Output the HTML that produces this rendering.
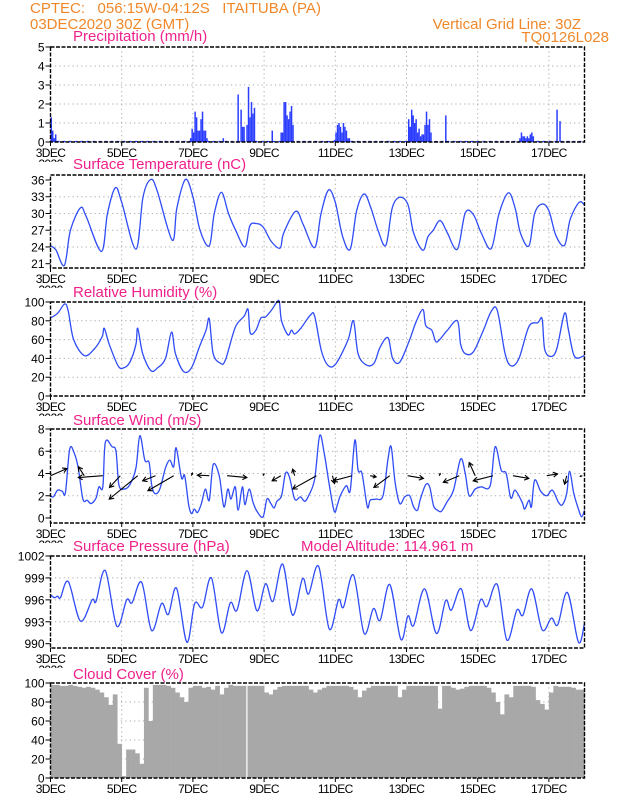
<!DOCTYPE html>
<html><head><meta charset="utf-8"><style>
html,body{margin:0;padding:0;background:#fff;}
svg{display:block;font-family:"Liberation Sans",sans-serif;}
.hdr{fill:#f0882a;font-size:15px;}
.ttl{fill:#f0208a;font-size:15px;}
.tk{font-size:12px;fill:#000;}
</style></head><body>
<svg id="chart" width="618" height="800" viewBox="0 0 618 800">
<text class="hdr" x="30" y="13" xml:space="preserve">CPTEC:   056:15W-04:12S   ITAITUBA (PA)</text>
<text class="hdr" x="30" y="29">03DEC2020 30Z (GMT)</text>
<text class="hdr" x="581" y="29" text-anchor="end">Vertical Grid Line: 30Z</text>
<text class="hdr" x="609" y="42" text-anchor="end">TQ0126L028</text>
</svg>
<script>
// ---- data ----
const dayLabels=["3DEC","5DEC","7DEC","9DEC","11DEC","13DEC","15DEC","17DEC"];
const precipStartHour=[0,94,116,126,149,155,191,241,266,316,341,343];
const precipClusters=[[1.3,0.6,0.2,0.4],[0.2,0.7,0.5,1.6,1.3,0.6,0.6,1.2,1.6,0.6,0.6,0.2],[0.2],[2.5,0,1.7,0.8,0.8,0,0.9,2.9,1.3,2.1,1.5,1.8],[0.6],[0.5,0.5,2.1,2.1,1.4,1.2,1.6,1.9,0.9],[0.1,0.5,0.9,1.0,0.8,0.5,1.0,0.8,0.6,0.2,0.2],[1.2,0.8,1.7,1.4,1.0,1.2,0.5,0.7,0.3,0.4,0.4,0.9,1.6,0.9,1.2,0.5],[1.4],[0.2,0.5,0.3,0.3,0.2,0.3,0.2,0.4,0.5,0.3],[1.7],[1.1]];
const tempT=[0,0.15,0.39,0.56,0.84,1.0,1.43,1.6,1.82,2.0,2.4,2.6,2.82,3.0,3.42,3.55,3.79,4.0,4.2,4.46,4.6,4.8,5.0,5.2,5.46,5.6,5.77,5.97,6.2,6.45,6.55,6.89,7.1,7.42,7.6,7.81,8.0,8.2,8.42,8.6,8.81,9.0,9.2,9.42,9.6,9.81,10.04,10.2,10.46,10.6,10.75,10.9,11.0,11.15,11.43,11.65,11.88,12.1,12.38,12.6,12.86,13.05,13.2,13.44,13.6,13.81,14.0,14.2,14.44,14.6,14.85,15];
const tempV=[24.2,23.5,20.7,27,31,29.5,23.2,30,34.6,32,23.6,33,36.1,34,25.2,31,36.1,33,27,24.2,30,33.8,30,27,24,27.8,28.2,27.6,25,23.8,26.5,30.4,28,23.9,30,34.2,32,26,23.6,30.5,33.5,31,27,24.3,31,32.9,31.6,26.5,23.4,25.8,27,28.6,28.4,26.5,23.6,30.1,29.8,26.5,23.7,30,33.7,31,26.5,24.2,30,31.7,30.5,26,24.3,29,32,31.5];
const rhT=[0,0.2,0.4,0.5,0.65,0.95,1.23,1.45,1.51,1.65,1.9,2.06,2.23,2.4,2.45,2.59,2.82,3.01,3.23,3.4,3.51,3.74,3.96,4.18,4.37,4.46,4.57,4.77,4.91,5.19,5.44,5.55,5.61,5.77,5.91,6.04,6.22,6.36,6.43,6.49,6.67,6.77,6.86,7.03,7.3,7.42,7.61,7.81,8.03,8.36,8.51,8.64,8.87,9.09,9.26,9.48,9.61,9.81,10.09,10.26,10.46,10.54,10.71,10.82,10.93,11.15,11.43,11.52,11.65,11.88,12.16,12.38,12.55,12.77,12.94,13.16,13.44,13.69,13.81,13.88,14.05,14.22,14.44,14.55,14.72,15];
const rhV=[83,88,98,90,60,43,50,63,72,55,32,30,36,55,72,45,27,30,40,68,45,26,30,52,70,82,45,35,38,73,85,92,67,70,83,84,92,100,100,80,65,70,66,72,86,85,48,32,35,60,80,45,33,35,52,62,40,36,60,78,92,75,70,58,60,70,80,55,45,47,70,90,91,45,32,40,74,78,82,50,42,50,88,70,42,43];
const windT=[0,.08,.2,.33,.42,.54,.67,.78,.91,1.03,1.14,1.28,1.36,1.47,1.54,1.73,1.84,1.92,2.06,2.23,2.4,2.51,2.65,2.77,2.84,2.93,3.07,3.23,3.35,3.46,3.53,3.68,3.77,3.88,3.96,4.04,4.13,4.24,4.35,4.46,4.57,4.74,4.87,4.98,5.07,5.19,5.27,5.39,5.46,5.58,5.69,5.8,5.97,6.08,6.19,6.28,6.36,6.49,6.6,6.71,6.86,7.02,7.14,7.25,7.42,7.56,7.69,7.83,7.97,8.06,8.14,8.31,8.42,8.55,8.64,8.75,8.9,8.98,9.14,9.34,9.48,9.57,9.68,9.81,9.95,10.09,10.2,10.31,10.39,10.54,10.65,10.76,10.87,10.98,11.13,11.32,11.52,11.65,11.76,11.93,12.1,12.35,12.49,12.66,12.8,12.93,13.05,13.25,13.32,13.44,13.51,13.6,13.77,13.94,14.1,14.27,14.38,14.5,14.58,14.7,14.83,14.92,15];
const windV=[2.0,1.9,2.5,2.4,2.3,6.2,5.8,4.5,1.7,1.6,1.3,1.8,2.8,2.8,6.8,6.4,6.0,3.0,2.6,3.0,4.5,7.4,5.2,5.0,3.0,2.2,2.6,4.5,5.2,4.6,6.3,3.6,3.8,1.2,0.4,0.8,0.5,1.3,2.6,1.6,4.8,3.8,1.0,2.6,1.7,2.8,0.7,2.8,1.2,2.6,1.4,0.6,0.1,1.7,1.3,0.9,1.5,2.0,4.0,3.7,1.7,1.9,1.5,2.0,3.5,7.4,5.8,3.0,0.6,1.2,2.0,2.9,2.5,7.0,4.3,4.0,1.0,1.6,1.7,2.0,5.3,6.4,3.2,1.3,1.9,2.0,1.0,0.7,1.7,3.0,2.8,1.1,0.7,0.6,1.4,2.5,5.3,4.0,2.0,2.6,2.8,2.9,6.4,4.3,4.0,1.8,2.5,1.4,0.8,1.6,1.0,3.4,2.4,2.0,2.5,1.4,1.2,2.2,4.2,2.2,0.8,0.1,0.7];
const arrowT=[0,0.95,1.47,1.96,2.45,2.95,3.46,3.96,4.46,4.96,5.97,6.47,6.86,7.47,7.92,8.47,8.98,9.53,10.03,10.92,11.48,11.93,12.43,12.99,13.94,14.5,14.94];
const arrowU=[5.5,-2,-8.2,-3.6,-9.5,-4.3,-8.6,0.3,-4,6.6,0.3,-2.9,-0.7,-7.9,0.7,-6.3,2,-5.3,5.3,0.3,-5.3,-2,-6.6,5.3,3.6,-0.7,-0.7];
const arrowV=[2.4,3,-0.6,-3.9,-7.8,-1.7,-5,0.9,0.2,-0.6,0.6,-1.7,2.2,-4.4,-2.6,-1.7,-0.4,-3.9,-0.9,0.7,-2.2,4.4,-1.7,-0.9,0.6,-2.8,-0.2];
const presT=[0,.11,.2,.28,.5,.84,1.17,1.28,1.54,1.86,2.14,2.29,2.56,2.84,3.12,3.31,3.54,3.83,4.05,4.27,4.52,4.8,5.05,5.24,5.52,5.8,6.04,6.25,6.52,6.8,7.08,7.25,7.53,7.83,8.09,8.23,8.51,8.81,9.07,9.26,9.53,9.84,10.04,10.2,10.51,10.84,11.1,11.26,11.54,11.8,12.08,12.26,12.55,12.82,13.1,13.27,13.52,13.81,14.07,14.25,14.52,14.83,15];
const presV=[996.7,996.3,996.5,996.3,998.5,993.1,996,995.8,1000,992.4,996,995.6,998.4,991.8,995.5,994,997.6,990.2,995.5,995,999,991.5,995.6,994.6,1000,994.5,998.2,995.8,1000.9,993.9,998.9,996.8,1000.6,992,996,995,999.4,991.4,994.8,993.2,998.1,990.6,993.8,992.5,997.5,991.4,995.9,994.6,997.5,991.8,996,995.1,998.1,990.5,994.6,993.9,997.5,991.9,993.5,992.6,997,990.2,992.8];
const cloudV=[98,98,97,97,98,97,96,95, 96,95,93,90,85,77,88,36, 2,30,30,26,15,95,60,98, 98,98,97,95,90,85,80,95, 97,97,95,96,93,97,88,95, 98,97,97,97,97,97,97,97, 90,88,93,96,97,97,97,97, 97,97,93,90,93,95,97,97, 97,97,97,96,93,85,92,95, 97,97,97,97,97,97,85,93, 97,97,97,97,97,97,97,73, 97,97,95,93,94,96,97,97, 97,97,95,90,80,67,88,85, 97,97,97,97,96,82,78,72, 90,97,96,96,96,95,93,93];
const cloudGapHour=[132];
const cloudGapV=[0];

// ---- layout ----
const NS="http://www.w3.org/2000/svg";
const svg=document.getElementById('chart');
const X0=50.5, DAY=35.6, X1=X0+15*DAY;
const X=t=>X0+t*DAY;
function el(tag,attrs,parent){const e=document.createElementNS(NS,tag);for(const k in attrs)e.setAttribute(k,attrs[k]);(parent||svg).appendChild(e);return e;}
const panels=[
 {key:'precip',title:'Precipitation (mm/h)',ty:41,top:47,bot:142,ymin:0,ymax:5,ticks:[0,1,2,3,4,5]},
 {key:'temp',title:'Surface Temperature (nC)',ty:169,top:175,bot:268,ymin:21,ymax:36,ticks:[21,24,27,30,33,36],y0:263.7,y1:180},
 {key:'rh',title:'Relative Humidity (%)',ty:297,top:302,bot:396,ymin:0,ymax:100,ticks:[0,20,40,60,80,100]},
 {key:'wind',title:'Surface Wind (m/s)',ty:425,top:429,bot:523,ymin:0,ymax:8,ticks:[0,2,4,6,8],y0:518,y1:429},
 {key:'pres',title:'Surface Pressure (hPa)',ty:551,top:556,bot:648,ymin:990,ymax:1002,ticks:[990,993,996,999,1002],y0:643.7,y1:556},
 {key:'cloud',title:'Cloud Cover (%)',ty:679,top:683,bot:778,ymin:0,ymax:100,ticks:[0,20,40,60,80,100]}
];
panels.forEach(p=>{const y0=p.y0!==undefined?p.y0:p.bot, y1=p.y1!==undefined?p.y1:p.top;p.Y=v=>y0-(v-p.ymin)/(p.ymax-p.ymin)*(y0-y1);});

function smoothPath(ts,vs,p){
 const pts=ts.map((t,i)=>[X(t),p.Y(vs[i])]);
 let d='M'+pts[0][0].toFixed(2)+','+pts[0][1].toFixed(2);
 for(let i=0;i<pts.length-1;i++){
  const a=pts[i-1]||pts[i],b=pts[i],c=pts[i+1],e=pts[i+2]||c;
  const c1=[b[0]+(c[0]-a[0])/6,b[1]+(c[1]-a[1])/6],c2=[c[0]-(e[0]-b[0])/6,c[1]-(e[1]-b[1])/6];
  d+=' C'+c1[0].toFixed(2)+','+c1[1].toFixed(2)+' '+c2[0].toFixed(2)+','+c2[1].toFixed(2)+' '+c[0].toFixed(2)+','+c[1].toFixed(2);
 }
 return d;
}
const defs=el('defs',{});

panels.forEach(p=>{
 const g=el('g',{});
 
 
 const tt=el('text',{x:73,y:p.ty,'class':'ttl'},g);tt.textContent=p.title;
 
 
 if(p.key==='pres'){const a=el('text',{x:301,y:p.ty,'class':'ttl'},g);a.textContent='Model Altitude: 114.961 m';
  
  }
 p.g=g;
 const grid=el('g',{stroke:'#aaa','stroke-width':1,'stroke-dasharray':'1.2,3.2'},g);
 
 
 for(let d=2;d<15;d+=2){el('line',{x1:X(d),x2:X(d),y1:p.top,y2:p.bot},grid);}
 p.ticks.forEach(v=>{if(v!==p.ymin&&v!==p.ymax||p.key==='precip'&&v===0)el('line',{x1:X0,x2:X1,y1:p.Y(v),y2:p.Y(v)},grid);});
 p.marks=el('g',{},g);
 
 
});

// precipitation bars
{const p=panels[0];
 el('line',{x1:X0,x2:X1,y1:p.Y(0)-0.5,y2:p.Y(0)-0.5,stroke:'#2a3cff','stroke-width':1.2,'stroke-dasharray':'3,3'},p.marks);
 precipClusters.forEach((vals,ci)=>{vals.forEach((v,j)=>{if(v<=0)return;const h=precipStartHour[ci]+j;
  const r=el('rect',{x:X(h/24),y:p.Y(v),width:DAY/24,height:p.Y(0)-p.Y(v),fill:'#2a3cff'},p.marks);
  
  });});}
// lines
[[1,tempT,tempV],[2,rhT,rhV],[3,windT,windV],[4,presT,presV]].forEach(([i,ts,vs])=>{
 const p=panels[i];
 const path=el('path',{d:smoothPath(ts,vs,p),fill:'none',stroke:'#2f4cf5','stroke-width':1.3},p.marks);
 
 
});
// wind arrows
{const p=panels[3];const ag=el('g',{stroke:'#000','stroke-width':1.1,fill:'none'},p.marks);
 
 
 arrowT.forEach((t,i)=>{const x=X(t),y=p.Y(3.8),hx=x+arrowU[i]*3,hy=y-arrowV[i]*3;
  const len=Math.hypot(hx-x,hy-y)||1,ux=(hx-x)/len,uy=(hy-y)/len,hl=Math.min(5,len*0.6);
  const d=`M${x},${y}L${hx},${hy}M${hx-hl*(ux*0.87-uy*0.5)},${hy-hl*(uy*0.87+ux*0.5)}L${hx},${hy}L${hx-hl*(ux*0.87+uy*0.5)},${hy-hl*(uy*0.87-ux*0.5)}`;
  const a=el('path',{d:d},ag);
  
  });}
// cloud
{const p=panels[5];
 cloudV.forEach((v,i)=>{const r=el('rect',{x:X(i/8),y:p.Y(v),width:DAY/8+0.3,height:p.Y(0)-p.Y(v),fill:'#a8a8a8'},p.marks);
  
  });
 cloudGapHour.forEach((h,i)=>{const r=el('rect',{x:X(h/24),y:p.top,width:1.2,height:p.Y(cloudGapV[i])-p.top,fill:'#fff'},p.marks);
  
  });}

// frames, ticks, labels
panels.forEach((p,pi)=>{
 const g=p.g;
 const f=el('rect',{x:X0,y:p.top,width:X1-X0,height:p.bot-p.top,fill:'none',stroke:'#000','stroke-width':1.4,'stroke-dasharray':'4,1.5'},g);
 
 
 p.ticks.forEach(v=>{const y=p.Y(v);el('line',{x1:X0-5,x2:X0,y1:y,y2:y,stroke:'#000','stroke-width':1},g);
  const t=el('text',{x:X0-6,y:y+4.5,'text-anchor':'end','class':'tk'},g);t.textContent=v;
  
  });
 dayLabels.forEach((l,i)=>{const x=X(i*2);el('line',{x1:x,x2:x,y1:p.bot,y2:p.bot+4,stroke:'#000'},g);
  const t=el('text',{x:x,y:p.bot+15,'text-anchor':'middle','class':'tk','letter-spacing':'-0.6'},g);t.textContent=l;
  
  });
 if(p.key!=='cloud'){
  const cp=el('clipPath',{id:'yc'+pi},defs);el('rect',{x:30,y:p.bot+16,width:40,height:4},cp);
  const t=el('text',{x:X0,y:p.bot+26,'text-anchor':'middle','class':'tk','letter-spacing':'-0.6','clip-path':'url(#yc'+pi+')'},g);t.textContent='2020';
  
  }
});
</script>
</body></html>
